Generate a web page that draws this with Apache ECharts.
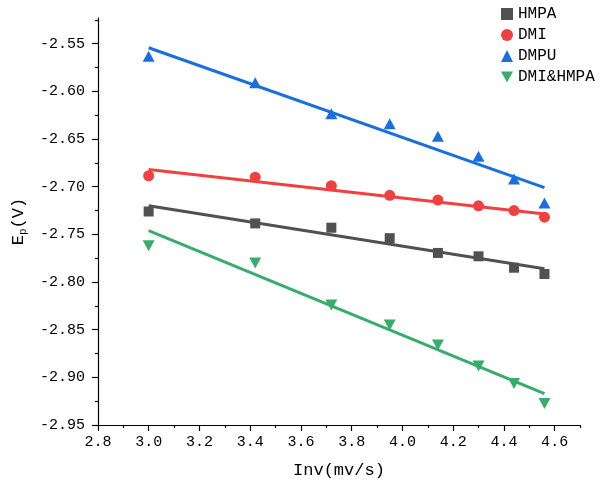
<!DOCTYPE html>
<html>
<head>
<meta charset="utf-8">
<script src="https://cdn.jsdelivr.net/npm/echarts@6/dist/echarts.min.js"></script>
<style>
  html, body { margin: 0; padding: 0; background: #fff; }
  #chart { width: 601px; height: 488px; }
</style>
</head>
<body>
<div id="chart"></div>
<script>
// x values
const xVals = [3.0, 3.42, 3.72, 3.95, 4.14, 4.30, 4.44, 4.56]

// measured Ep values per system
const hmpa = [-2.726, -2.7385, -2.743, -2.754, -2.7695, -2.773, -2.785, -2.7916]
const dmi = [-2.6885, -2.690, -2.699, -2.709, -2.714, -2.720, -2.725, -2.732]
const dmpu = [-2.563, -2.591, -2.6235, -2.634, -2.647, -2.668, -2.692, -2.717]
const dmiHmpa = [-2.762, -2.780, -2.824, -2.845, -2.866, -2.888, -2.9065, -2.9275]

// fitted line end points (x start/end, y start/end)
const fitX = [3.0, 4.56]
const fitHmpa = [-2.720, -2.786]
const fitDmi = [-2.682, -2.7286]
const fitDmpu = [-2.5542, -2.701]
const fitDmiHmpa = [-2.746, -2.917]

// ticks
const yMajor = [-2.95, -2.90, -2.85, -2.80, -2.75, -2.70, -2.65, -2.60, -2.55]
const yMinor = [-2.925, -2.875, -2.825, -2.775, -2.725, -2.675, -2.625, -2.575, -2.525]
const xMajor = [2.8, 3.0, 3.2, 3.4, 3.6, 3.8, 4.0, 4.2, 4.4, 4.6]
const xMinor = [2.9, 3.1, 3.3, 3.5, 3.7, 3.9, 4.1, 4.3, 4.5, 4.7]

const names = ['HMPA', 'DMI', 'DMPU', 'DMI&HMPA']
const colors = ['#515151', '#F14040', '#1A6FDF', '#37AD6B']
const FONT = 'Liberation Mono'
const downTri = 'path://M0,0 L10,0 L5,9 Z'

const pairs = (xs, ys) => xs.map((x, i) => [x, ys[i]])

const chart = echarts.init(document.getElementById('chart'))

const axisLine = { show: true, lineStyle: { color: '#000', width: 1.2 } }

const option = {
  animation: false,
  textStyle: { fontFamily: FONT },
  grid: { left: 89, right: 21, top: 18, bottom: 63 },
  legend: {
    data: names,
    orient: 'vertical',
    left: 496,
    top: 1,
    itemWidth: 12,
    itemHeight: 12,
    itemGap: 5,
    textStyle: { fontFamily: FONT, fontSize: 16, color: '#000', lineHeight: 16 }
  },
  xAxis: [
    {
      type: 'value',
      min: 2.8,
      max: 4.7,
      interval: 0.1,
      name: 'Inv(mv/s)',
      nameLocation: 'middle',
      nameGap: 37,
      nameTextStyle: { fontFamily: FONT, fontSize: 17, color: '#000' },
      axisLine: axisLine,
      axisTick: { show: true, inside: false, length: 6, customValues: xMajor, lineStyle: { color: '#000', width: 1.2 } },
      axisLabel: { customValues: xMajor, margin: 10, fontFamily: FONT, fontSize: 15, color: '#000',
        formatter: v => v.toFixed(1) },
      splitLine: { show: false }
    },
    {
      type: 'value',
      position: 'bottom',
      min: 2.8,
      max: 4.7,
      interval: 0.1,
      axisLine: { show: false },
      axisTick: { show: true, length: 3, customValues: xMinor, lineStyle: { color: '#000', width: 1.2 } },
      axisLabel: { show: false },
      splitLine: { show: false }
    }
  ],
  yAxis: [
    {
      type: 'value',
      min: -2.95,
      max: -2.523,
      interval: 0.025,
      name: '{m|E}{s|p}{m|(V)}',
      nameLocation: 'middle',
      nameGap: 67,
      nameTextStyle: {
        fontFamily: FONT, color: '#000',
        rich: {
          m: { fontFamily: FONT, fontSize: 17, color: '#000', lineHeight: 22, verticalAlign: 'middle' },
          s: { fontFamily: FONT, fontSize: 11, color: '#000', lineHeight: 22, verticalAlign: 'bottom', padding: [10, 0, 0, 0] }
        }
      },
      axisLine: axisLine,
      axisTick: { show: true, length: 6, customValues: yMajor, lineStyle: { color: '#000', width: 1.2 } },
      axisLabel: { customValues: yMajor, margin: 13, fontFamily: FONT, fontSize: 15, color: '#000',
        formatter: v => v.toFixed(2) },
      splitLine: { show: false }
    },
    {
      type: 'value',
      position: 'left',
      min: -2.95,
      max: -2.523,
      interval: 0.025,
      axisLine: { show: false },
      axisTick: { show: true, length: 3, customValues: yMinor, lineStyle: { color: '#000', width: 1.2 } },
      axisLabel: { show: false },
      splitLine: { show: false }
    }
  ],
  series: [
    { name: 'HMPA fit', type: 'line', data: pairs(fitX, fitHmpa), symbol: 'none', lineStyle: { color: colors[0], width: 3 }, z: 2 },
    { name: 'DMI fit', type: 'line', data: pairs(fitX, fitDmi), symbol: 'none', lineStyle: { color: colors[1], width: 3 }, z: 2 },
    { name: 'DMPU fit', type: 'line', data: pairs(fitX, fitDmpu), symbol: 'none', lineStyle: { color: colors[2], width: 3 }, z: 2 },
    { name: 'DMI&HMPA fit', type: 'line', data: pairs(fitX, fitDmiHmpa), symbol: 'none', lineStyle: { color: colors[3], width: 3 }, z: 2 },
    { name: names[0], type: 'scatter', data: pairs(xVals, hmpa), symbol: 'rect', symbolSize: 10, itemStyle: { color: colors[0], opacity: 1 }, z: 3 },
    { name: names[1], type: 'scatter', data: pairs(xVals, dmi), symbol: 'circle', symbolSize: 11, itemStyle: { color: colors[1], opacity: 1 }, z: 3 },
    { name: names[2], type: 'scatter', data: pairs(xVals, dmpu), symbol: 'triangle', symbolSize: [12, 11], itemStyle: { color: colors[2], opacity: 1 }, z: 3 },
    { name: names[3], type: 'scatter', data: pairs(xVals, dmiHmpa), symbol: downTri, symbolSize: [12, 11], itemStyle: { color: colors[3], opacity: 1 }, z: 3 }
  ]
}

chart.setOption(option)
</script>
</body>
</html>
